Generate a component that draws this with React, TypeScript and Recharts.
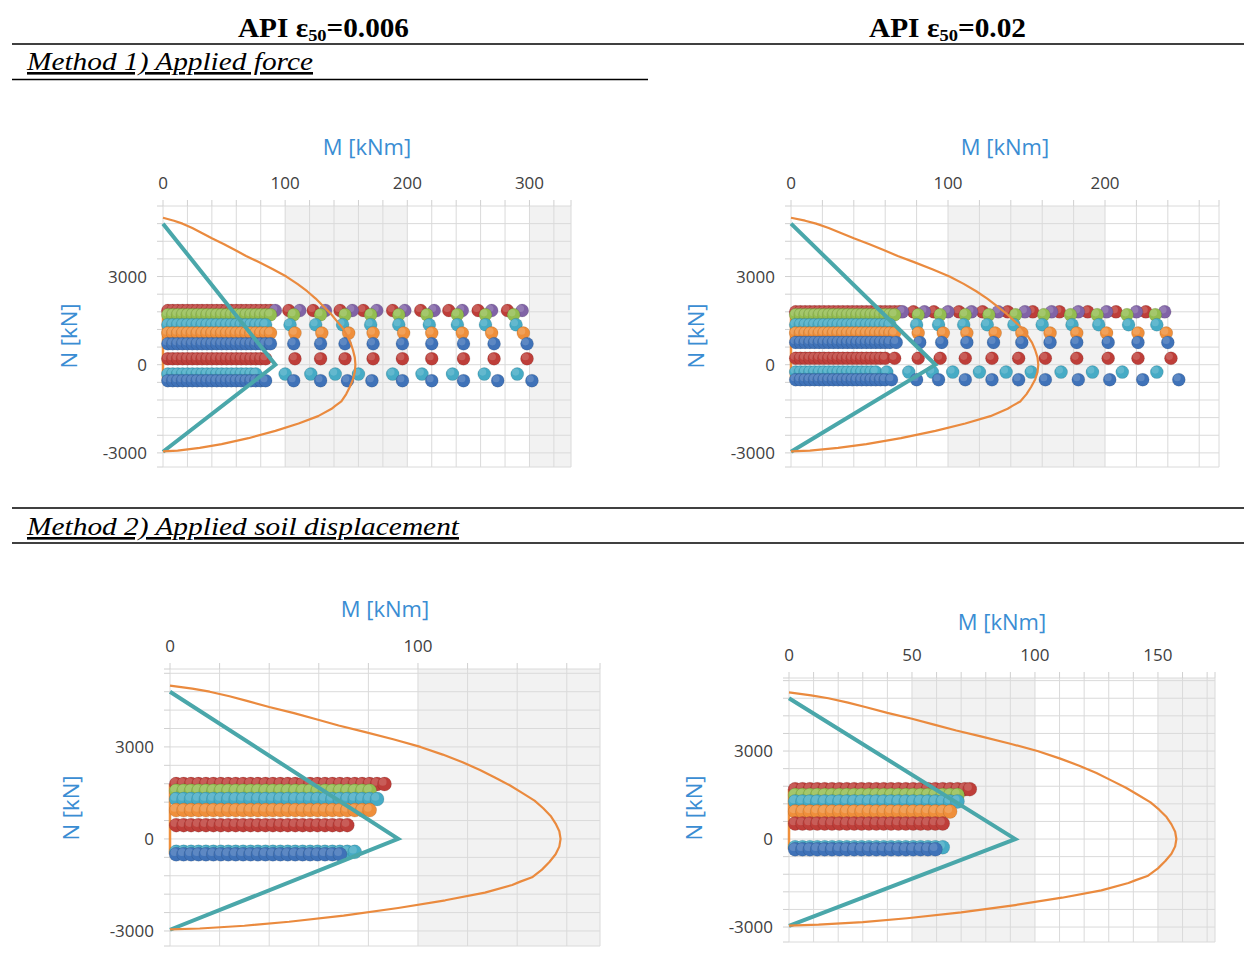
import { CartesianGrid, Scatter, ScatterChart, XAxis, YAxis } from 'recharts'

const BLUE = '#3f72b8'
const RED = '#be3e39'
const GREEN = '#93bd50'
const PURPLE = '#8063a6'
const TEAL = '#46abc5'
const ORANGE = '#ef8f3b'

// M-N capacity envelope and linear limit, same section for all four panels
const capacityN = [5000, 4900, 4800, 4650, 4500, 4300, 4100, 3900, 3700, 3500, 3250, 3000, 2750, 2500, 2250, 2000, 1750, 1500, 1250, 1000, 750, 500, 250, 0, -250, -500, -750, -1000, -1250, -1400, -1500, -1750, -2000, -2250, -2500, -2700, -2830, -2920, -2950]
const capacityM = [0, 9, 16, 24, 31, 40, 50, 59, 68, 78, 90, 101, 110, 118, 125, 131, 137, 142, 147, 150.5, 153.5, 155.5, 157, 157.5, 157, 155.5, 153, 150, 146, 141, 138, 127, 111, 92, 70, 48, 30, 12, 0]
const limitM = [0, 92, 0]
const limitN = [4800, 0, -2960]

const nMajor = [-3000, 0, 3000]

// Method 1) applied force, eps50 = 0.006
const force006Ticks = [0, 100, 200, 300]
const force006N = [1845, 1845, 1700, 1360, 1076, 713, 204, -317, -543]
const force006Dense = [4, 8, 12, 16, 20, 24, 28, 32, 36, 40, 44, 48, 52, 56, 60, 64, 68, 72, 76, 80, 84, 88]
const force006DenseEnd = [88, -1, 88, 84, 92, 90, 85, 77, 86]
const force006Sparse = [
  [103, 123, 145, 164, 188, 211, 234, 258, 282],
  [92, 112, 133, 155, 175, 198, 222, 245, 269, 294],
  [107, 129, 149, 170, 193, 216, 241, 264, 287],
  [104, 125, 147, 170, 193, 218, 241, 264, 289],
  [108, 130, 152, 172, 197, 220, 245, 269, 295],
  [107, 129, 149, 172, 196, 220, 246, 271, 298],
  [108, 129, 149, 172, 196, 220, 246, 271, 298],
  [100, 121, 141, 160, 188, 212, 237, 263, 290],
  [107, 129, 151, 171, 196, 220, 246, 274, 302],
]

// Method 1) applied force, eps50 = 0.02
const force002Ticks = [0, 100, 200]
const force002N = [1800, 1800, 1700, 1360, 1076, 760, 220, -250, -510]
const force002Dense = [3, 6, 9, 12, 15, 18, 21, 24, 27, 30, 33, 36, 39, 42, 45, 48, 51, 54, 57, 60, 63, 66, 69]
const force002DenseEnd = [70, -1, 68, 64, 68, 63, 62, 55, 60]
const force002Sparse = [
  [78, 91, 107, 122, 138, 154, 171, 189, 207, 226],
  [71, 85, 100, 115, 132, 149, 166, 183, 201, 220, 238],
  [81, 95, 111, 126, 143, 161, 178, 195, 214, 232],
  [80, 94, 110, 125, 142, 160, 179, 196, 215, 233],
  [81, 97, 112, 130, 147, 165, 182, 201, 221, 239],
  [67, 82, 96, 112, 129, 147, 165, 182, 202, 221, 240],
  [66, 81, 95, 111, 128, 145, 162, 182, 202, 221, 242],
  [61, 75, 90, 103, 120, 137, 153, 172, 192, 211, 233],
  [64, 80, 94, 111, 128, 145, 162, 183, 203, 224, 247],
]
const forceColors = [RED, PURPLE, GREEN, TEAL, ORANGE, BLUE, RED, TEAL, BLUE]

// Method 2) applied soil displacement
const disp006Ticks = [0, 100]
const disp006N = [1790, 1570, 1300, 940, 450, -420, -500]
const disp006Dense = [2.5, 5.5, 8.5, 11.5, 14.5, 17.5, 20.5, 23.5, 26.5, 29.5, 32.5, 35.5, 38.5, 41.5, 44.5, 47.5, 50.5, 53.5, 56.5, 59.5, 62.5, 65.5, 68.5, 71.5, 74.5, 77.5, 80.5, 83.5, 86.5]
const disp006DenseEnd = [86.5, 81, 83.7, 82, 74, 75.8, 71.4]

const disp002Ticks = [0, 50, 100, 150]
const disp002N = [1700, 1500, 1280, 940, 530, -280, -350]
const disp002Dense = [2.5, 5.5, 8.5, 11.5, 14.5, 17.5, 20.5, 23.5, 26.5, 29.5, 32.5, 35.5, 38.5, 41.5, 44.5, 47.5, 50.5, 53.5, 56.5, 59.5, 62.5, 65.5, 68.5, 71.5, 73.5]
const disp002DenseEnd = [73.5, 71, 70.6, 67.7, 62.6, 63, 60]
const dispColors = [RED, GREEN, TEAL, ORANGE, RED, TEAL, BLUE]

type Row = { n: number; color: string; m: number[] }

function buildRows(ns: number[], colors: string[], dense: number[], ends: number[], sparse?: number[][]): Row[] {
  return ns.map((n, i) => ({
    n,
    color: colors[i],
    m: [...dense.filter((v) => v <= ends[i]), ...(sparse ? sparse[i] : [])],
  }))
}

const ball = (color: string, r: number) => (p: any) => (
  <g>
    <circle cx={p.cx} cy={p.cy} r={r} fill={color} stroke="rgba(0,0,0,0.18)" strokeWidth={0.6} />
    <circle cx={p.cx - r * 0.25} cy={p.cy - r * 0.3} r={r * 0.55} fill="#fff" fillOpacity={0.16} />
  </g>
)

const FONT = "'Open Sans', 'Noto Sans', sans-serif"
const BAND = '#f2f2f2'

function Panel({
  x, y, w, h, xMax, xStep, xMajor, yMin, yMax, rows, r, titleAt, nAt,
}: {
  x: number; y: number; w: number; h: number
  xMax: number; xStep: number; xMajor: number[]
  yMin: number; yMax: number
  rows: Row[]; r: number
  titleAt: [number, number]; nAt: [number, number]
}) {
  const margin = { top: 20, right: 12, bottom: 12, left: 40 }
  const axisW = 60
  const axisH = 40
  const xTicks: number[] = []
  for (let v = 0; v < xMax - 0.5; v += xStep) xTicks.push(v)
  xTicks.push(xMax)
  const yTicks: number[] = [yMin]
  for (let v = -3000; v <= yMax; v += 600) yTicks.push(v)
  if (yTicks[yTicks.length - 1] < yMax - 1) yTicks.push(yMax)
  const fills = ['#ffffff', '#ffffff', '#ffffff', '#ffffff', '#ffffff', BAND, BAND, BAND, BAND, BAND]
  const capacity = capacityM.map((m, i) => ({ x: m, y: capacityN[i] }))
  const limit = limitM.map((m, i) => ({ x: m, y: limitN[i] }))
  const ns = rows.map((row) => row.n)
  const startLine = [{ x: 0, y: Math.min(...ns) }, { x: 0, y: Math.max(...ns) }]
  const tickStyle = { fontSize: 17, fill: '#404040', fontFamily: FONT }

  return (
    <>
      <div style={{ position: 'absolute', left: x - margin.left - axisW, top: y - margin.top - axisH }}>
        <ScatterChart width={w + margin.left + axisW + margin.right} height={h + margin.top + axisH + margin.bottom} margin={margin}>
          <CartesianGrid stroke="#dadada" verticalFill={fills} />
          <XAxis
            type="number" dataKey="x" orientation="top" domain={[0, xMax]} ticks={xTicks} interval={0}
            height={axisH} axisLine={false} tickSize={6} tickMargin={11}
            tickLine={{ stroke: '#d0d0d0' }} tick={tickStyle}
            tickFormatter={(v: number) => (xMajor.includes(v) ? String(v) : '')}
          />
          <YAxis
            type="number" dataKey="y" domain={[yMin, yMax]} ticks={yTicks} interval={0}
            width={axisW} axisLine={false} tickSize={6} tickMargin={10}
            tickLine={{ stroke: '#d0d0d0' }} tick={tickStyle}
            tickFormatter={(v: number) => (nMajor.includes(v) ? String(v) : '')}
          />
          <Scatter data={startLine} line={{ stroke: ORANGE, strokeWidth: 2.5 }} shape={() => <g />} isAnimationActive={false} />
          {rows.map((row, i) => (
            <Scatter
              key={i}
              data={row.m.map((m) => ({ x: m, y: row.n }))}
              shape={ball(row.color, r)}
              isAnimationActive={false}
            />
          ))}
          <Scatter data={limit} line={{ stroke: '#4aa7aa', strokeWidth: 4 }} shape={() => <g />} isAnimationActive={false} />
          <Scatter
            data={capacity}
            line={{ stroke: '#ea8a3e', strokeWidth: 2.2, strokeLinejoin: 'round' }} shape={() => <g />} isAnimationActive={false}
          />
        </ScatterChart>
      </div>
      <div style={{ position: 'absolute', left: titleAt[0] - 100, top: titleAt[1] - 15, width: 200, textAlign: 'center', fontFamily: FONT, fontSize: 22, lineHeight: '30px', color: '#3a8dd3' }}>
        M [kNm]
      </div>
      <div style={{ position: 'absolute', left: nAt[0] - 60, top: nAt[1] - 15, width: 120, textAlign: 'center', fontFamily: FONT, fontSize: 22, lineHeight: '30px', color: '#3a8dd3', transform: 'rotate(-90deg)' }}>
        N [kN]
      </div>
    </>
  )
}

export default function App() {
  const serif = "'Liberation Serif', 'Times New Roman', serif"
  return (
    <div style={{ position: 'absolute', left: 0, top: 0, width: 1244, height: 974, background: '#fff' }}>
      <svg width={1244} height={974} style={{ position: 'absolute', left: 0, top: 0 }}>
        <g fontFamily={serif} fill="#000">
          <text x={238} y={37} fontSize={27} fontWeight="bold" textLength={171} lengthAdjust="spacingAndGlyphs">
            API ε<tspan fontSize={17} dy={4}>50</tspan><tspan dy={-4}>=0.006</tspan>
          </text>
          <text x={869} y={37} fontSize={27} fontWeight="bold" textLength={157} lengthAdjust="spacingAndGlyphs">
            API ε<tspan fontSize={17} dy={4}>50</tspan><tspan dy={-4}>=0.02</tspan>
          </text>
          <text x={27} y={70} fontSize={26} fontStyle="italic" textLength={286} lengthAdjust="spacingAndGlyphs" style={{ textDecoration: 'underline' }}>
            Method 1) Applied force
          </text>
          <text x={27} y={535} fontSize={26} fontStyle="italic" textLength={432} lengthAdjust="spacingAndGlyphs" style={{ textDecoration: 'underline' }}>
            Method 2) Applied soil displacement
          </text>
        </g>
        <g stroke="#000" strokeWidth={1.5}>
          <line x1={12} x2={1244} y1={44} y2={44} />
          <line x1={12} x2={648} y1={79.5} y2={79.5} />
          <line x1={12} x2={1244} y1={508} y2={508} />
          <line x1={12} x2={1244} y1={543} y2={543} />
        </g>
      </svg>

      <Panel
        x={163} y={206} w={408} h={261} xMax={334} xStep={20} xMajor={force006Ticks}
        yMin={-3480} yMax={5400} r={6.5}
        rows={buildRows(force006N, forceColors, force006Dense, force006DenseEnd, force006Sparse)}
        titleAt={[367, 146]} nAt={[68, 336]}
      />
      <Panel
        x={791} y={206} w={428} h={261} xMax={272.6} xStep={20} xMajor={force002Ticks}
        yMin={-3480} yMax={5400} r={6.5}
        rows={buildRows(force002N, forceColors, force002Dense, force002DenseEnd, force002Sparse)}
        titleAt={[1005, 146]} nAt={[695, 336]}
      />
      <Panel
        x={170} y={669} w={430} h={277} xMax={173.4} xStep={20} xMajor={disp006Ticks}
        yMin={-3490} yMax={5540} r={7}
        rows={buildRows(disp006N, dispColors, disp006Dense, disp006DenseEnd)}
        titleAt={[385, 608]} nAt={[70, 808]}
      />
      <Panel
        x={789} y={678} w={426} h={264} xMax={173.2} xStep={10} xMajor={disp002Ticks}
        yMin={-3510} yMax={5490} r={7}
        rows={buildRows(disp002N, dispColors, disp002Dense, disp002DenseEnd)}
        titleAt={[1002, 621]} nAt={[693, 808]}
      />
    </div>
  )
}
